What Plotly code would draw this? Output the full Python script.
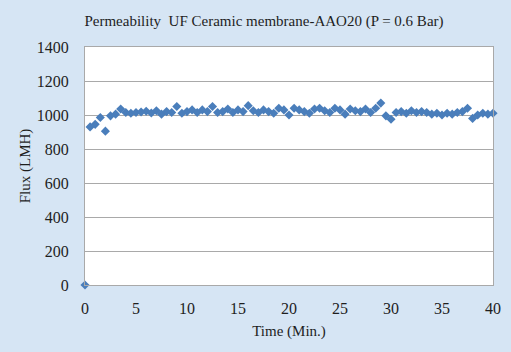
import plotly.graph_objects as go

# Permeate flux readings taken every half minute
time_min = [i * 0.5 for i in range(81)]
flux_lmh = [
    0, 930, 945, 985, 905, 995, 1005, 1035, 1015, 1010,
    1015, 1018, 1022, 1012, 1025, 1005, 1020, 1015, 1050, 1010,
    1020, 1030, 1015, 1030, 1020, 1050, 1015, 1020, 1035, 1015,
    1030, 1020, 1055, 1025, 1015, 1030, 1020, 1010, 1040, 1030,
    1000, 1040, 1030, 1020, 1010, 1035, 1040, 1025, 1015, 1040,
    1030, 1005, 1035, 1025, 1020, 1035, 1015, 1040, 1070, 995,
    975, 1015, 1020, 1010, 1025, 1015, 1020, 1015, 1005, 1010,
    1000, 1010, 1005, 1015, 1020, 1040, 980, 1000, 1010, 1005,
    1010,
]

x_ticks = [0, 5, 10, 15, 20, 25, 30, 35, 40]
y_ticks = [0, 200, 400, 600, 800, 1000, 1200, 1400]

font_family = "Liberation Serif, Times New Roman, serif"
text_color = "#1e1e1e"
grid_color = "#a9a9a9"

fig = go.Figure(
    go.Scatter(
        x=time_min,
        y=flux_lmh,
        mode="markers",
        marker=dict(symbol="diamond", size=7, color="#4a7ebb",
                    line=dict(width=0)),
        cliponaxis=False,
        showlegend=False,
    )
)

fig.update_layout(
    width=511,
    height=352,
    margin=dict(l=85, r=10, t=47, b=67),
    paper_bgcolor="#d6e5f4",
    plot_bgcolor="#ffffff",
    font=dict(family=font_family, size=15, color=text_color),
    title=dict(
        text="Permeability  UF Ceramic membrane-AAO20 (P = 0.6 Bar)",
        x=264 / 511, xanchor="center", xref="container",
        y=1 - 21 / 352, yanchor="middle", yref="container",
        font=dict(family=font_family, size=15, color=text_color),
    ),
    xaxis=dict(
        range=[0, 40],
        tickvals=x_ticks,
        ticktext=[str(v) for v in x_ticks],
        showgrid=False,
        zeroline=False,
        showline=True,
        linecolor=grid_color,
        linewidth=1,
        mirror=True,
        ticks="",
        ticklabelstandoff=9,
        tickfont=dict(size=16),
        title=dict(text="Time (Min.)", standoff=9, font=dict(size=15)),
    ),
    yaxis=dict(
        range=[0, 1400],
        tickvals=y_ticks,
        ticktext=[str(v) for v in y_ticks],
        showgrid=True,
        gridcolor=grid_color,
        gridwidth=1,
        zeroline=False,
        showline=True,
        linecolor=grid_color,
        linewidth=1,
        mirror=True,
        ticks="",
        ticklabelstandoff=12,
        tickfont=dict(size=16),
        title=dict(text="Flux (LMH)", standoff=2, font=dict(size=15)),
    ),
)

fig.write_html("out.html")
